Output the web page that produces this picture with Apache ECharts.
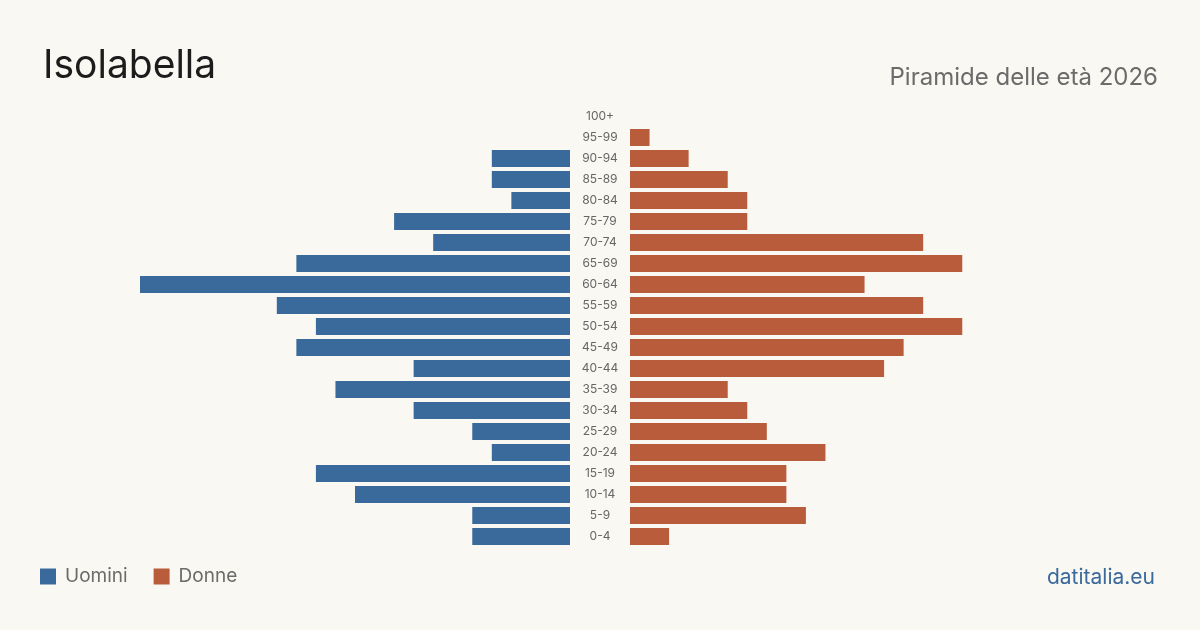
<!DOCTYPE html>
<html>
<head>
<meta charset="utf-8">
<script src="https://cdn.jsdelivr.net/npm/echarts@6/dist/echarts.min.js"></script>
<style>
  html, body { margin: 0; padding: 0; background: #faf8f3; }
  #chart { width: 1200px; height: 630px; }
</style>
</head>
<body>
<div id="chart"></div>
<script>
// classi di età, dall'alto verso il basso
const ageGroups = ['100+', '95-99', '90-94', '85-89', '80-84', '75-79', '70-74', '65-69', '60-64', '55-59',
  '50-54', '45-49', '40-44', '35-39', '30-34', '25-29', '20-24', '15-19', '10-14', '5-9', '0-4'];
const uomini = [0, 0, 4, 4, 3, 9, 7, 14, 22, 15, 13, 14, 8, 12, 8, 5, 4, 13, 11, 5, 5];
const donne = [0, 1, 3, 5, 6, 6, 15, 17, 12, 15, 17, 14, 13, 5, 6, 7, 10, 8, 8, 9, 2];

const blue = '#3a6a9b';
const orange = '#b95c3c';
const font = 'Inter, "Noto Sans", sans-serif';
const maxVal = Math.max(...uomini, ...donne);

const chart = echarts.init(document.getElementById('chart'));

const option = {
  backgroundColor: '#faf8f3',
  textStyle: { fontFamily: font },
  title: [
    {
      text: 'Isolabella',
      left: 38, top: 42,
      textStyle: { fontFamily: font, fontSize: 39, fontWeight: 'normal', color: '#1c1c1c' }
    },
    {
      text: 'Piramide delle età 2026',
      right: 37, top: 61,
      textStyle: { fontFamily: font, fontSize: 24, fontWeight: 'normal', color: '#6b6b6b' }
    },
    {
      text: 'datitalia.eu',
      right: 40, top: 562,
      textStyle: { fontFamily: font, fontSize: 21, fontWeight: 'normal', color: blue }
    }
  ],
  legend: {
    left: 40, top: 567,
    padding: 0,
    icon: 'rect',
    itemWidth: 16, itemHeight: 16,
    itemGap: 26,
    textStyle: { fontFamily: font, fontSize: 19, color: '#6b6b6b', padding: [0, 0, 0, 4] },
    data: ['Uomini', 'Donne']
  },
  grid: [
    { left: 140, width: 430, top: 106, height: 441 },
    { left: 630, width: 430, top: 106, height: 441 }
  ],
  xAxis: [
    { gridIndex: 0, type: 'value', inverse: true, min: 0, max: maxVal, show: false },
    { gridIndex: 1, type: 'value', min: 0, max: maxVal, show: false }
  ],
  yAxis: [
    {
      gridIndex: 0, type: 'category', data: ageGroups, inverse: true, position: 'right',
      axisLine: { show: false }, axisTick: { show: false },
      axisLabel: { show: true, margin: 30, align: 'center', fontFamily: font, fontSize: 12, color: '#666' }
    },
    {
      gridIndex: 1, type: 'category', data: ageGroups, inverse: true,
      axisLine: { show: false }, axisTick: { show: false }, axisLabel: { show: false }
    }
  ],
  series: [
    {
      name: 'Uomini', type: 'bar', xAxisIndex: 0, yAxisIndex: 0,
      data: uomini, barWidth: 17, itemStyle: { color: blue }, silent: true
    },
    {
      name: 'Donne', type: 'bar', xAxisIndex: 1, yAxisIndex: 1,
      data: donne, barWidth: 17, itemStyle: { color: orange }, silent: true
    }
  ],
  animation: false
};

chart.setOption(option);
</script>
</body>
</html>
